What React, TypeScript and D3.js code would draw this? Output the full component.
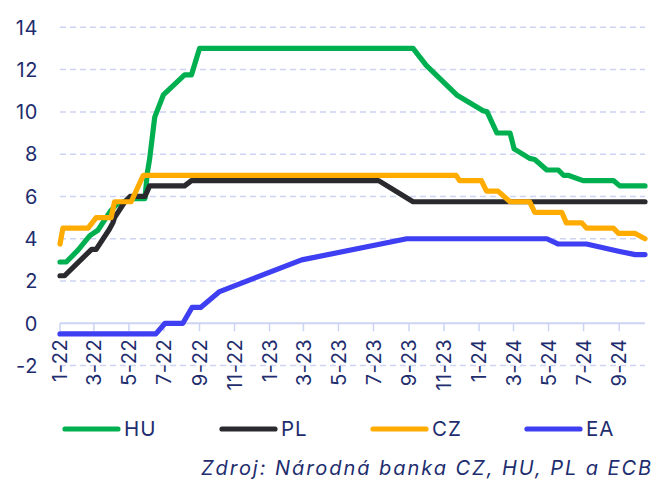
import React from 'react';
import * as d3 from 'd3';

// policy rates, % (breakpoints)
const huDates = ['2022-01-01', '2022-01-12', '2022-02-01', '2022-02-22', '2022-03-08', '2022-03-31', '2022-04-09', '2022-05-05', '2022-05-29', '2022-06-02', '2022-06-06', '2022-06-15', '2022-06-30', '2022-08-06', '2022-08-18', '2022-09-01', '2023-09-08', '2023-10-01', '2023-11-23', '2024-01-08', '2024-01-15', '2024-02-01', '2024-02-24', '2024-03-02', '2024-03-29', '2024-04-07', '2024-04-28', '2024-05-18', '2024-05-27', '2024-06-04', '2024-06-30', '2024-08-22', '2024-09-02', '2024-10-16'];
const huValues = [2.9, 2.9, 3.45, 4.15, 4.4, 5.35, 5.6, 5.9, 5.9, 7.1, 7.75, 9.75, 10.8, 11.75, 11.75, 13, 13, 12.2, 10.8, 10.05, 10, 9, 9, 8.25, 7.8, 7.75, 7.25, 7.25, 7, 7, 6.75, 6.75, 6.5, 6.5];

const plDates = ['2022-01-01', '2022-01-09', '2022-02-25', '2022-03-05', '2022-03-28', '2022-04-03', '2022-04-06', '2022-04-24', '2022-05-03', '2022-05-29', '2022-06-06', '2022-08-06', '2022-08-18', '2023-07-10', '2023-09-08', '2024-10-16'];
const plValues = [2.25, 2.25, 3.5, 3.5, 4.45, 4.75, 5, 5.75, 6, 6, 6.5, 6.5, 6.75, 6.75, 5.75, 5.75];

const czDates = ['2022-01-01', '2022-01-06', '2022-02-19', '2022-03-05', '2022-03-31', '2022-04-06', '2022-05-05', '2022-05-26', '2023-11-22', '2023-11-28', '2024-01-05', '2024-01-14', '2024-02-03', '2024-02-24', '2024-03-29', '2024-04-07', '2024-05-24', '2024-06-01', '2024-06-28', '2024-07-06', '2024-08-22', '2024-08-31', '2024-09-29', '2024-10-16'];
const czValues = [3.75, 4.5, 4.5, 5, 5, 5.75, 5.75, 7, 7, 6.75, 6.75, 6.25, 6.25, 5.75, 5.75, 5.25, 5.25, 4.75, 4.75, 4.5, 4.5, 4.25, 4.25, 4];

const eaDates = ['2022-01-01', '2022-06-17', '2022-07-03', '2022-08-03', '2022-08-19', '2022-09-03', '2022-10-06', '2023-02-26', '2023-08-28', '2024-04-28', '2024-05-18', '2024-07-06', '2024-09-02', '2024-09-29', '2024-10-16'];
const eaValues = [-0.5, -0.5, 0, 0, 0.75, 0.75, 1.5, 3, 4, 4, 3.75, 3.75, 3.4, 3.25, 3.25];

const seriesNames = ['HU', 'PL', 'CZ', 'EA'];
const seriesColors = ['#00b050', '#2a2a2e', '#ffab00', '#3e3ef2'];
const yTicks = [-2, 0, 2, 4, 6, 8, 10, 12, 14];
const sourceText = 'Zdroj: Národná banka CZ, HU, PL a ECB';

const W = 656;
const H = 480;
const FONT = 'Inter, "Noto Sans", sans-serif';
const NAVY = '#1e2d6e';
const GRID = '#cdd4f3';

const parse = d3.timeParse('%Y-%m-%d');

export default function App() {
  const x = d3
    .scaleTime()
    .domain([parse('2022-01-01')!, parse('2024-10-16')!])
    .range([60, 645]);
  const y = d3.scaleLinear().domain([-2, 14]).range([365.6, 27.3]);

  const series = [
    [huDates, huValues],
    [plDates, plValues],
    [czDates, czValues],
    [eaDates, eaValues],
  ].map(([dates, values]) =>
    (dates as string[]).map((d, i) => ({ date: parse(d)!, value: (values as number[])[i] }))
  );

  const line = d3
    .line<{ date: Date; value: number }>()
    .x((d) => x(d.date))
    .y((d) => y(d.value));

  const xTicks = x.ticks(d3.timeMonth.every(2)!);
  const [x0, x1] = x.range();
  const y0 = y(0);

  const legendX = [65, 222, 373, 527];

  return (
    <svg
      width={W}
      height={H}
      style={{ position: 'absolute', left: 0, top: 0, fontFamily: FONT }}
    >
      <rect width={W} height={H} fill="#fff" />
      {yTicks
        .filter((t) => t !== 0)
        .map((t) => (
          <line
            key={t}
            x1={x0}
            x2={x1}
            y1={y(t)}
            y2={y(t)}
            stroke={GRID}
            strokeWidth={1.5}
            strokeDasharray="6,4"
          />
        ))}
      {yTicks.map((t) => (
        <text
          key={t}
          x={38}
          y={y(t)}
          dy="0.36em"
          textAnchor="end"
          fontSize={20}
          letterSpacing={0.6}
          fill={NAVY}
        >
          {t}
        </text>
      ))}
      <line x1={x0} x2={x1} y1={y0} y2={y0} stroke={GRID} strokeWidth={2} />
      {xTicks.map((t) => (
        <g key={t.getTime()}>
          <line x1={x(t)} x2={x(t)} y1={y0} y2={y0 + 8} stroke={GRID} strokeWidth={1.5} />
          <text
            transform={`translate(${x(t)},${y0 + 15.5}) rotate(-90)`}
            textAnchor="end"
            dy="0.36em"
            fontSize={20}
            letterSpacing={0.5}
            fill={NAVY}
          >
            {`${t.getMonth() + 1}-${d3.timeFormat('%y')(t)}`}
          </text>
        </g>
      ))}
      {series.map((s, i) => (
        <path
          key={seriesNames[i]}
          d={line(s) ?? ''}
          fill="none"
          stroke={seriesColors[i]}
          strokeWidth={5.2}
          strokeLinejoin="round"
          strokeLinecap="round"
        />
      ))}
      {seriesNames.map((name, i) => (
        <g key={name} transform={`translate(${legendX[i]},429)`}>
          <line x1={0} x2={53} y1={0} y2={0} stroke={seriesColors[i]} strokeWidth={5.2} strokeLinecap="round" />
          <text x={59} dy="0.36em" fontSize={20.5} letterSpacing={1} fill={NAVY}>
            {name}
          </text>
        </g>
      ))}
      <text x={201} y={475} fontSize={20} fontStyle="italic" letterSpacing={1.95} fill={NAVY}>
        {sourceText}
      </text>
    </svg>
  );
}
